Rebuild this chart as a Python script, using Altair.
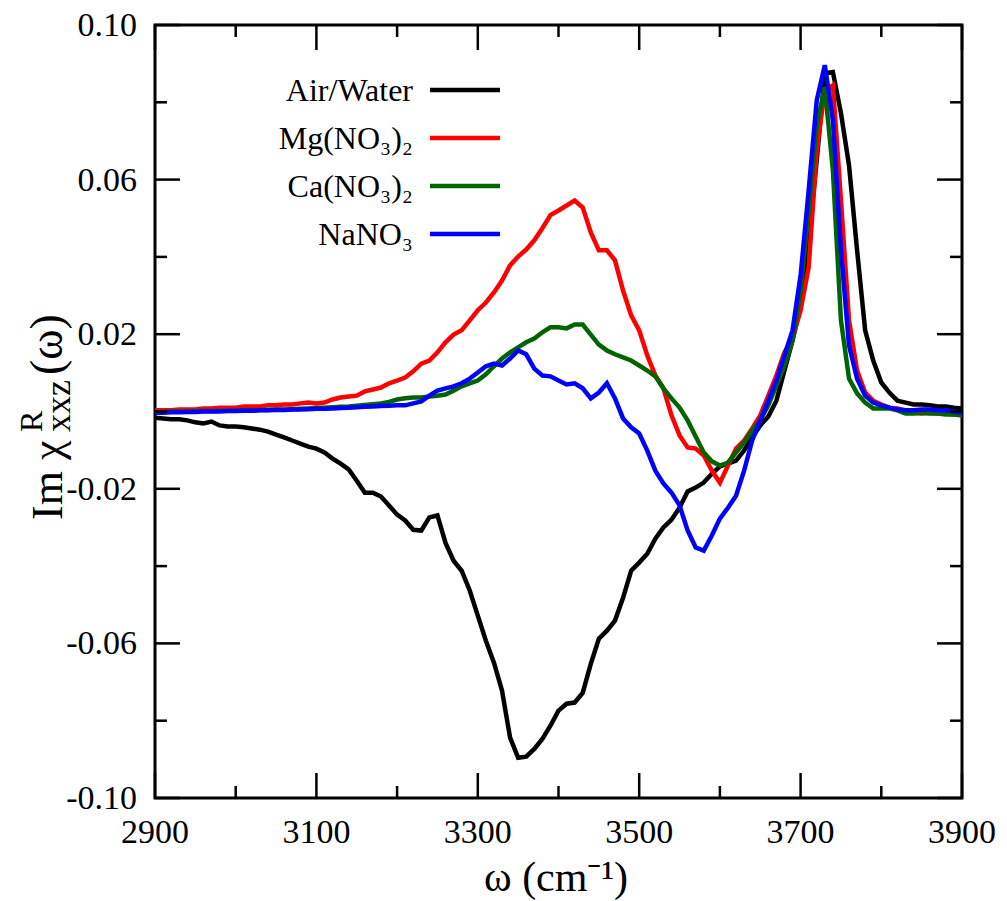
import altair as alt
import pandas as pd

# ---------------- data ----------------
wavenumber = list(range(2900, 3901, 10))

air_water = [
    -0.0016, -0.0018, -0.0020, -0.0020, -0.0023, -0.0028, -0.0031, -0.0026, -0.0036, -0.0039,
    -0.0039, -0.0041, -0.0044, -0.0047, -0.0052, -0.0060, -0.0067, -0.0075, -0.0083, -0.0091,
    -0.0096, -0.0106, -0.0122, -0.0135, -0.0150, -0.0179, -0.0210, -0.0210, -0.0220, -0.0243,
    -0.0267, -0.0282, -0.0306, -0.0308, -0.0274, -0.0269, -0.0340, -0.0386, -0.0412, -0.0463,
    -0.0528, -0.0593, -0.0650, -0.0722, -0.0844, -0.0896, -0.0893, -0.0873, -0.0847, -0.0813,
    -0.0774, -0.0756, -0.0753, -0.0728, -0.0653, -0.0588, -0.0567, -0.0541, -0.0482, -0.0412,
    -0.0391, -0.0368, -0.0329, -0.0300, -0.0280, -0.0249, -0.0207, -0.0197, -0.0184, -0.0161,
    -0.0142, -0.0135, -0.0127, -0.0101, -0.0067, -0.0036, -0.0013, 0.0028, 0.0106, 0.0184,
    0.0274, 0.0443, 0.0650, 0.0875, 0.0878, 0.0772, 0.0637, 0.0417, 0.0210, 0.0132,
    0.0075, 0.0049, 0.0028, 0.0023, 0.0018, 0.0018, 0.0016, 0.0013, 0.0013, 0.0010,
    0.0008,
]

mg_no3 = [
    0.0003, 0.0003, 0.0003, 0.0005, 0.0005, 0.0005, 0.0008, 0.0008, 0.0010, 0.0010,
    0.0010, 0.0013, 0.0013, 0.0013, 0.0016, 0.0016, 0.0018, 0.0018, 0.0021, 0.0023,
    0.0021, 0.0023, 0.0031, 0.0036, 0.0039, 0.0041, 0.0052, 0.0057, 0.0062, 0.0073,
    0.0080, 0.0088, 0.0104, 0.0124, 0.0132, 0.0153, 0.0179, 0.0199, 0.0210, 0.0236,
    0.0262, 0.0282, 0.0308, 0.0339, 0.0378, 0.0401, 0.0419, 0.0443, 0.0474, 0.0508,
    0.0520, 0.0533, 0.0546, 0.0528, 0.0463, 0.0417, 0.0417, 0.0391, 0.0313, 0.0249,
    0.0210, 0.0145, 0.0093, 0.0060, -0.0010, -0.0062, -0.0093, -0.0096, -0.0114, -0.0153,
    -0.0184, -0.0140, -0.0096, -0.0075, -0.0044, -0.0010, 0.0041, 0.0093, 0.0153, 0.0189,
    0.0262, 0.0373, 0.0676, 0.0831, 0.0844, 0.0546, 0.0236, 0.0106, 0.0049, 0.0028,
    0.0018, 0.0010, 0.0008, 0.0003, -0.0003, -0.0005, -0.0003, -0.0005, -0.0005, -0.0008,
    -0.0010,
]

ca_no3 = [
    -0.0001, -0.0001, 0.0000, 0.0000, 0.0000, 0.0001, 0.0001, 0.0001, 0.0002, 0.0002,
    0.0002, 0.0003, 0.0003, 0.0004, 0.0004, 0.0005, 0.0005, 0.0006, 0.0007, 0.0008,
    0.0009, 0.0010, 0.0011, 0.0012, 0.0013, 0.0015, 0.0017, 0.0019, 0.0021, 0.0025,
    0.0031, 0.0034, 0.0036, 0.0036, 0.0039, 0.0041, 0.0044, 0.0054, 0.0065, 0.0073,
    0.0080, 0.0096, 0.0117, 0.0137, 0.0153, 0.0166, 0.0179, 0.0189, 0.0205, 0.0218,
    0.0218, 0.0215, 0.0225, 0.0225, 0.0199, 0.0173, 0.0158, 0.0148, 0.0140, 0.0132,
    0.0119, 0.0106, 0.0091, 0.0060, 0.0034, 0.0010, -0.0023, -0.0065, -0.0106, -0.0129,
    -0.0140, -0.0132, -0.0106, -0.0080, -0.0049, -0.0023, 0.0016, 0.0067, 0.0119, 0.0184,
    0.0313, 0.0520, 0.0740, 0.0839, 0.0624, 0.0236, 0.0085, 0.0047, 0.0023, 0.0008,
    0.0008, 0.0008, 0.0003, -0.0005, -0.0005, -0.0003, -0.0005, -0.0005, -0.0008, -0.0008,
    -0.0010,
]

na_no3 = [
    -0.0003, -0.0003, -0.0002, -0.0002, -0.0001, -0.0001, 0.0000, 0.0000, 0.0000, 0.0001,
    0.0001, 0.0002, 0.0002, 0.0003, 0.0003, 0.0004, 0.0004, 0.0005, 0.0005, 0.0006,
    0.0007, 0.0007, 0.0008, 0.0009, 0.0010, 0.0011, 0.0012, 0.0013, 0.0014, 0.0015,
    0.0016, 0.0016, 0.0021, 0.0026, 0.0041, 0.0054, 0.0060, 0.0065, 0.0073, 0.0085,
    0.0101, 0.0117, 0.0124, 0.0119, 0.0137, 0.0158, 0.0148, 0.0111, 0.0093, 0.0091,
    0.0080, 0.0070, 0.0073, 0.0060, 0.0034, 0.0049, 0.0073, 0.0034, -0.0018, -0.0041,
    -0.0057, -0.0101, -0.0153, -0.0186, -0.0210, -0.0243, -0.0308, -0.0352, -0.0360, -0.0321,
    -0.0277, -0.0249, -0.0218, -0.0153, -0.0075, -0.0023, 0.0028, 0.0080, 0.0145, 0.0210,
    0.0352, 0.0572, 0.0805, 0.0896, 0.0754, 0.0417, 0.0171, 0.0085, 0.0041, 0.0023,
    0.0016, 0.0010, 0.0005, 0.0003, 0.0003, 0.0005, 0.0005, 0.0003, 0.0003, 0.0000,
    -0.0003,
]

series_names = ["Air/Water", "Mg(NO\u2083)\u2082", "Ca(NO\u2083)\u2082", "NaNO\u2083"]
series_values = [air_water, mg_no3, ca_no3, na_no3]
series_colors = ["#000000", "#ff0000", "#006400", "#0000ff"]

x_major = [2900, 3100, 3300, 3500, 3700, 3900]
x_labels = ["2900", "3100", "3300", "3500", "3700", "3900"]
x_minor = [3000, 3200, 3400, 3600, 3800]
y_major = [-0.10, -0.06, -0.02, 0.02, 0.06, 0.10]
y_labels = ["-0.10", "-0.06", "-0.02", "0.02", "0.06", "0.10"]
y_minor = [-0.08, -0.04, 0.0, 0.04, 0.08]

# ---------------- layout ----------------
W, H = 807, 773
FONT = "Liberation Serif"
MAJ, MIN = 25, 12

xscale = alt.Scale(domain=[2900, 3900], nice=False, zero=False)
yscale = alt.Scale(domain=[-0.10, 0.10], nice=False, zero=False)

X = alt.X("w:Q", scale=xscale, axis=None)
Y = alt.Y("v:Q", scale=yscale, axis=None)

layers = []
for name, vals, col in zip(series_names, series_values, series_colors):
    df = pd.DataFrame({"w": wavenumber, "v": vals})
    layers.append(
        alt.Chart(df).mark_line(color=col, strokeWidth=4.5, strokeJoin="miter", clip=True)
        .encode(x=X, y=Y)
    )

# inward ticks on all four sides
xmaj = pd.DataFrame({"w": x_major, "lab": x_labels})
xmin = pd.DataFrame({"w": x_minor})
ymaj = pd.DataFrame({"v": y_major, "lab": y_labels})
ymin = pd.DataFrame({"v": y_minor})
tick = dict(color="black", strokeWidth=2.5)
for d, L in [(xmaj, MAJ), (xmin, MIN)]:
    layers.append(alt.Chart(d).mark_rule(**tick).encode(x=X, y=alt.value(H), y2=alt.value(H - L)))
    layers.append(alt.Chart(d).mark_rule(**tick).encode(x=X, y=alt.value(0), y2=alt.value(L)))
for d, L in [(ymaj, MAJ), (ymin, MIN)]:
    layers.append(alt.Chart(d).mark_rule(**tick).encode(y=Y, x=alt.value(0), x2=alt.value(L)))
    layers.append(alt.Chart(d).mark_rule(**tick).encode(y=Y, x=alt.value(W), x2=alt.value(W - L)))

# tick labels (serif text placed through the scales)
layers.append(alt.Chart(xmaj).mark_text(font=FONT, fontSize=34, align="center",
                                        baseline="alphabetic", color="black")
              .encode(x=X, y=alt.value(H + 45), text="lab:N"))
layers.append(alt.Chart(ymaj).mark_text(font=FONT, fontSize=34, align="right",
                                        baseline="middle", color="black", dy=1)
              .encode(y=Y, x=alt.value(-18), text="lab:N"))

one = pd.DataFrame({"a": [0]})

# legend (manual: labels left, line samples right)
for i, (name, col) in enumerate(zip(series_names, series_colors)):
    yc = 65 + 48 * i
    layers.append(alt.Chart(one).mark_text(text=name, font=FONT, fontSize=32, align="right",
                                           baseline="alphabetic", color="black")
                  .encode(x=alt.value(258), y=alt.value(yc + 11)))
    layers.append(alt.Chart(one).mark_rule(color=col, strokeWidth=4.5)
                  .encode(x=alt.value(275), x2=alt.value(345), y=alt.value(yc)))

# x title
layers.append(alt.Chart(one).mark_text(text="\u03c9 (cm\u207b\u00b9)", font=FONT, fontSize=42,
                                       align="center", baseline="alphabetic", color="black")
              .encode(x=alt.value(401), y=alt.value(866)))

# y title pieces (rotated, reading upward)
rot = dict(font=FONT, angle=270, align="left", baseline="alphabetic", color="black")
layers.append(alt.Chart(one).mark_text(text="Im \u03c7", fontSize=44, **rot)
              .encode(x=alt.value(-93), y=alt.value(495)))
layers.append(alt.Chart(one).mark_text(text="R", fontSize=32, **rot)
              .encode(x=alt.value(-113), y=alt.value(407)))
layers.append(alt.Chart(one).mark_text(text="xxz", fontSize=36, **rot)
              .encode(x=alt.value(-85), y=alt.value(407)))
layers.append(alt.Chart(one).mark_text(text="(\u03c9)", fontSize=46, **rot)
              .encode(x=alt.value(-93), y=alt.value(350)))

chart = alt.layer(*layers).properties(
    width=W, height=H,
    autosize=alt.AutoSizeParams(type="none"),
    padding={"left": 155, "top": 25, "right": 45, "bottom": 103},
    background="white",
).configure_view(
    stroke="black", strokeWidth=3
)

chart.save("out.html", embed_options={"renderer": "svg", "actions": False})
